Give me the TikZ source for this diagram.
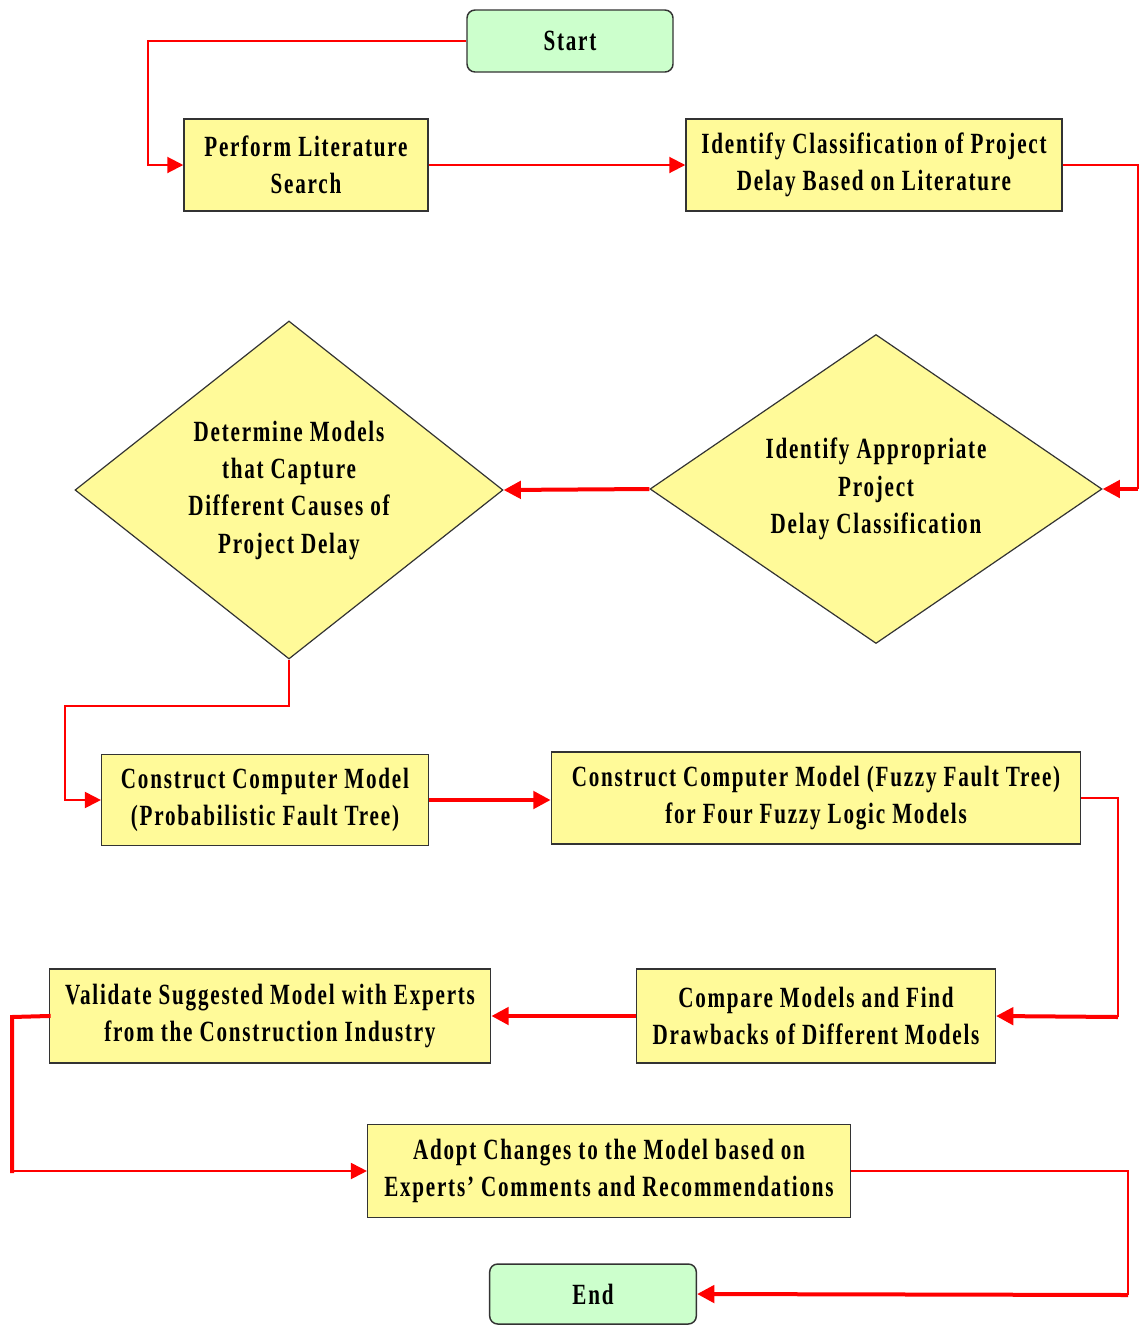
\documentclass[tikz,border=0pt]{standalone}
\usepackage{fontspec}
\setmainfont{Liberation Serif}[FakeStretch=0.72,LetterSpace=6]
\usetikzlibrary{shapes.geometric,arrows.meta}
\begin{document}
\begin{tikzpicture}[x=0.75pt,y=-0.75pt,
  font=\bfseries\fontsize{22}{28}\selectfont,
  every node/.style={align=center,text=black},
  procbox/.style={draw=black!80,line width=1.1pt,fill=yellow!40!white,inner sep=0pt},
  termbox/.style={draw=black!80,line width=1.1pt,fill=green!20!white,rounded corners=6pt,inner sep=0pt},
  decision/.style={diamond,draw=black!80,line width=0.9pt,fill=yellow!40!white,inner sep=-12pt},
  thinline/.style={draw=red,line width=1.5pt},
  thickline/.style={draw=red,line width=3pt},
  thinflow/.style={thinline,-{Triangle[length=12pt,width=12pt]}},
  thickflow/.style={thickline,-{Triangle[length=13pt,width=13pt]}}]
\useasboundingbox (0,0) rectangle (1141,1325);

% steps of the procedure
\node[termbox,minimum width=154.5pt,minimum height=46.5pt] (start) at (570,41) {Start};
\node[procbox,minimum width=183pt,minimum height=69pt] (search) at (306,165) {Perform Literature\\Search};
\node[procbox,minimum width=282pt,minimum height=69pt] (classify) at (874,165) {Identify Classification of Project\\Delay Based on Literature};
\node[decision,shape aspect=1.46,minimum width=339pt,minimum height=231.75pt] (appropriate) at (876,489) {Identify Appropriate\\Project\\Delay Classification};
\node[decision,shape aspect=1.27,minimum width=321pt,minimum height=253.5pt] (models) at (289,490) {Determine Models\\that Capture\\Different Causes of\\Project Delay};
\node[procbox,minimum width=245pt,minimum height=68pt] (probab) at (265,800) {Construct Computer Model\\(Probabilistic Fault Tree)};
\node[procbox,minimum width=397pt,minimum height=69pt] (fuzzy) at (816,798) {Construct Computer Model (Fuzzy Fault Tree)\\for Four Fuzzy Logic Models};
\node[procbox,minimum width=269pt,minimum height=70.5pt] (compare) at (816,1016) {Compare Models and Find\\Drawbacks of Different Models};
\node[procbox,minimum width=331pt,minimum height=70.5pt] (validate) at (270,1016) {Validate Suggested Model with Experts\\from the Construction Industry};
\node[procbox,minimum width=362pt,minimum height=70pt] (adopt) at (609,1171) {Adopt Changes to the Model based on\\Experts' Comments and Recommendations};
\node[termbox,minimum width=155pt,minimum height=45pt] (finish) at (593,1294) {End};

% bend points of the routed connectors
\coordinate (b1) at (1138,489);
\coordinate (b2) at (1118,1017);
\coordinate (b3) at (12,1017);
\coordinate (b4) at (12,1171);
\coordinate (b5) at (1128,1295);

% connectors
\draw[thinflow] (start.west) -| (148,165) -- (search.west);
\draw[thinflow] (search.east) -- (classify.west);
\draw[thinline] (classify.east) -| (b1);
\draw[thickflow] (b1) -- (appropriate.east);
\draw[thickflow] (appropriate.west) -- (models.east);
\draw[thinflow] (models.south) |- (65,706) |- (probab.west);
\draw[thickflow] (probab.east) -- (fuzzy.west |- probab.east);
\draw[thinline] (fuzzy.east) -| (b2);
\draw[thickflow] (b2) -- (compare.east);
\draw[thickflow] (compare.west) -- (validate.east);
\draw[thickline,line cap=rect] (validate.west) -- (b3) -- (b4);
\draw[thinflow] (b4) -- (adopt.west);
\draw[thinline] (adopt.east) -| (b5);
\draw[thickflow] (b5) -- (finish.east);
\end{tikzpicture}
\end{document}
